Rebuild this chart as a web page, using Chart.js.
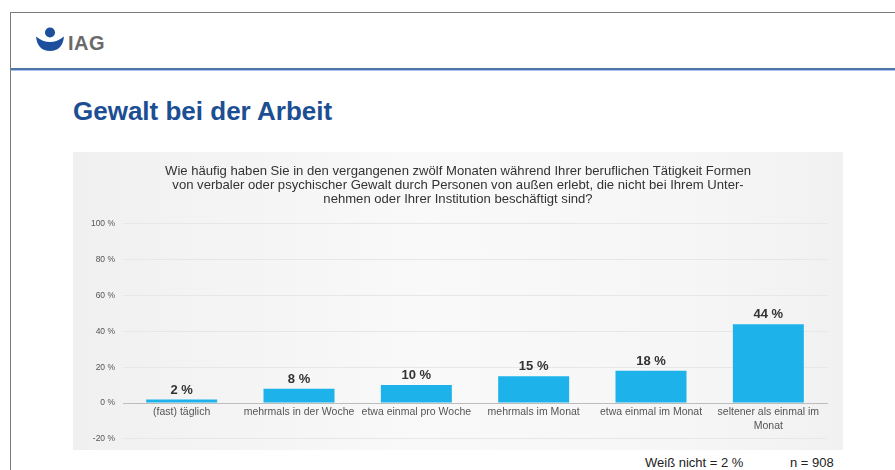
<!DOCTYPE html>
<html lang="de">
<head>
<meta charset="utf-8">
<title>Gewalt bei der Arbeit</title>
<script src="https://cdn.jsdelivr.net/npm/chart.js@4.4.1/dist/chart.umd.min.js"></script>
<style>
  html, body { margin: 0; padding: 0; background: #fff; }
  body { width: 895px; height: 470px; position: relative; overflow: hidden; font-family: "Liberation Sans", Arial, sans-serif; }
  .frame { position: absolute; left: 10px; top: 12px; width: 900px; height: 470px; border-top: 1px solid #7a7a7a; border-left: 1px solid #7a7a7a; }
  .rule { position: absolute; left: 11px; top: 68px; width: 890px; height: 2px; background: #4f74aa; border-bottom: 1px solid #a9c4e8; }
  .logo { position: absolute; left: 34px; top: 26px; }
  .brand { position: absolute; left: 68px; top: 33px; font-size: 20px; line-height: 20px; font-weight: bold; letter-spacing: 0.5px; color: #6a6a6a; }
  h1 { position: absolute; left: 73px; top: 98px; margin: 0; font-size: 26px; line-height: 26px; font-weight: bold; color: #1b4e93; }
  .panel { position: absolute; left: 73px; top: 152px; width: 770px; height: 298px;
           background: linear-gradient(to right, #f0f0f0, #f9f9f9 45%, #f6f6f6 80%, #f1f1f1); }
  .panel canvas { position: absolute; left: 0; top: 0; }
  .note { position: absolute; top: 456px; font-size: 13px; line-height: 13px; color: #222; }
</style>
</head>
<body>
<div class="frame"></div>
<div class="rule"></div>
<svg class="logo" width="32" height="26" viewBox="34 26 32 26">
  <circle cx="50" cy="32.5" r="5" fill="#1d4f9c"/>
  <path d="M36,36.5 Q37.5,51 50,51 Q62.5,51 64,36.5 Q57,42 50,42 Q43,42 36,36.5 Z" fill="#1d4f9c"/>
</svg>
<div class="brand">IAG</div>
<h1>Gewalt bei der Arbeit</h1>
<div class="panel"><canvas id="violenceChart" width="770" height="300"></canvas></div>
<div class="note" id="dontKnow" style="left:645px"></div>
<div class="note" id="sample" style="left:790px"></div>

<script>
// survey answers and shares in percent
const categories = [
  '(fast) täglich',
  'mehrmals in der Woche',
  'etwa einmal pro Woche',
  'mehrmals im Monat',
  'etwa einmal im Monat',
  ['seltener als einmal im', 'Monat'],
];
const shares = [2, 8, 10, 15, 18, 44];
const yTicks = [-20, 0, 20, 40, 60, 80, 100];
const question = [
  'Wie häufig haben Sie in den vergangenen zwölf Monaten während Ihrer beruflichen Tätigkeit Formen',
  'von verbaler oder psychischer Gewalt durch Personen von außen erlebt, die nicht bei Ihrem Unter-',
  'nehmen oder Ihrer Institution beschäftigt sind?',
];
const dontKnowShare = 2;
const sampleSize = 908;

document.getElementById('dontKnow').textContent = 'Weiß nicht = ' + dontKnowShare + ' %';
document.getElementById('sample').textContent = 'n = ' + sampleSize;

const barBlue = '#1db3ea';
const fontFamily = '"Liberation Sans", Arial, sans-serif';

// prints "xx %" above every bar
const valueLabels = {
  id: 'valueLabels',
  afterDatasetsDraw(chart) {
    const { ctx } = chart;
    const meta = chart.getDatasetMeta(0);
    ctx.save();
    ctx.font = 'bold 13px ' + fontFamily;
    ctx.fillStyle = '#333';
    ctx.textAlign = 'center';
    ctx.textBaseline = 'bottom';
    meta.data.forEach((bar, i) => {
      ctx.fillText(shares[i] + ' %', bar.x, bar.y - 3);
    });
    ctx.restore();
  },
};

const ctx = document.getElementById('violenceChart').getContext('2d');

const violenceChart = new Chart(ctx, {
  type: 'bar',
  data: {
    labels: categories,
    datasets: [
      {
        data: shares,
        backgroundColor: barBlue,
        borderWidth: 0,
        barPercentage: 0.605,
        categoryPercentage: 1,
      },
    ],
  },
  options: {
    responsive: false,
    animation: false,
    layout: {
      // equal side padding keeps the question centred in the panel;
      // bottom space comes from the y tick padding (label half height + 8)
      padding: { left: 16, right: 16, top: 0, bottom: 0 },
    },
    plugins: {
      legend: { display: false },
      tooltip: { enabled: false },
      title: {
        display: true,
        text: question,
        color: '#333',
        font: { family: fontFamily, size: 13.1, weight: 'normal', lineHeight: 14 / 13.1 },
        padding: { top: 12.5, bottom: 17.2 },
      },
    },
    scales: {
      x: {
        position: { y: 0 },
        grid: { display: false, drawTicks: false },
        border: { display: true, color: '#bdbdbd', width: 1 },
        ticks: {
          color: '#555',
          padding: 3,
          maxRotation: 0,
          autoSkip: false,
          font: { family: fontFamily, size: 10.5, lineHeight: 1.25 },
        },
      },
      y: {
        min: -20,
        max: 100,
        afterBuildTicks(scale) {
          scale.ticks = yTicks.map((v) => ({ value: v }));
        },
        afterFit(scale) {
          scale.width = 34;
        },
        grid: {
          drawTicks: false,
          color: (c) => (c.tick && c.tick.value === 0 ? '#bdbdbd' : '#e7e7e7'),
        },
        border: { display: false },
        ticks: {
          color: '#555',
          padding: 8,
          font: { family: fontFamily, size: 8.5 },
          callback: (v) => v + ' %',
        },
      },
    },
  },
  plugins: [valueLabels],
});
</script>
</body>
</html>
